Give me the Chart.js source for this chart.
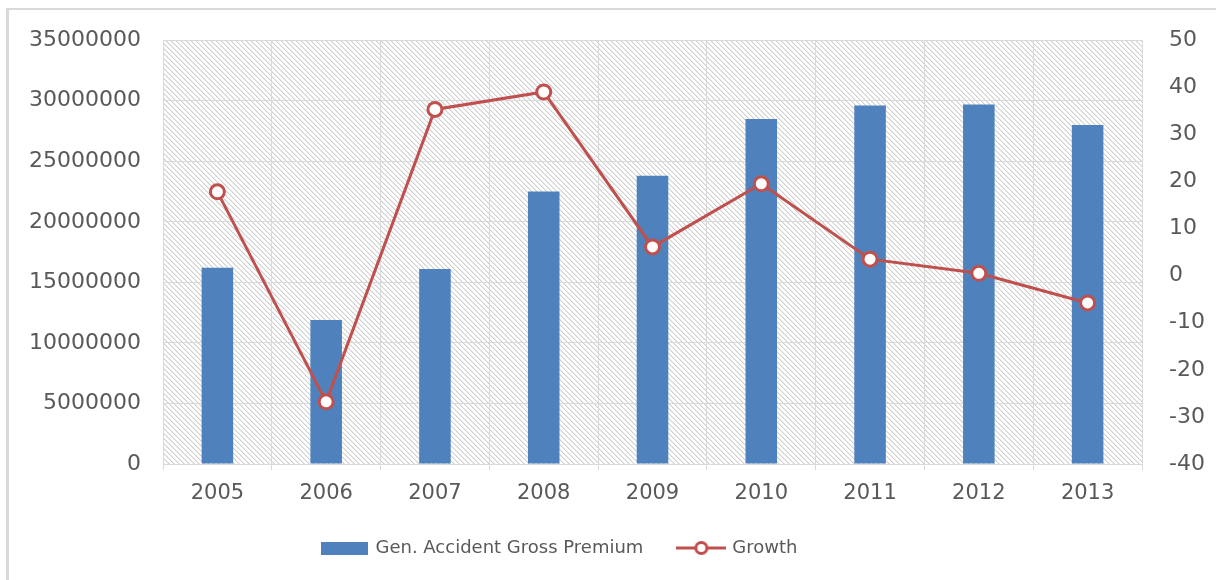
<!DOCTYPE html>
<html>
<head>
<meta charset="utf-8">
<script src="https://cdn.jsdelivr.net/npm/chart.js@4/dist/chart.umd.min.js"></script>
<style>
  html, body { margin: 0; padding: 0; background: #ffffff; }
  #wrap { width: 1216px; height: 580px; position: relative; }
</style>
</head>
<body>
<div id="wrap"><canvas id="c" width="1216" height="580"></canvas></div>
<script>
const categories = ['2005','2006','2007','2008','2009','2010','2011','2012','2013'];
const premiumValues = [16200000, 11900000, 16100000, 22500000, 23800000, 28500000, 29600000, 29700000, 28000000];
const growthValues = [17.8, -26.8, 35.3, 39.0, 6.1, 19.5, 3.5, 0.5, -5.8];
const premiumLabel = 'Gen. Accident Gross Premium';
const growthLabel = 'Growth';

const BLUE = '#4F81BD';
const RED = '#C0504D';
const GRID = '#d9d9d9';
const TEXT = '#595959';
const FONT = 'DejaVu Sans';

function makeHatch() {
  const n = 5;
  const p = document.createElement('canvas');
  p.width = n; p.height = n;
  const g = p.getContext('2d');
  g.fillStyle = '#ffffff';
  g.fillRect(0, 0, n, n);
  g.fillStyle = '#cfcfcf';
  for (let i = 0; i < n; i++) g.fillRect(i, i, 1, 1);
  g.fillStyle = '#eaeaea';
  for (let i = 0; i < n; i++) g.fillRect((i + 1) % n, i, 1, 1);
  return p;
}

function legendIconBar() {
  const c = document.createElement('canvas');
  c.width = 47; c.height = 13;
  const g = c.getContext('2d');
  g.fillStyle = BLUE;
  g.fillRect(0, 0, 47, 13);
  return c;
}
function legendIconLine() {
  const c = document.createElement('canvas');
  c.width = 50; c.height = 16;
  const g = c.getContext('2d');
  g.strokeStyle = RED; g.lineWidth = 3;
  g.beginPath(); g.moveTo(0, 8); g.lineTo(50, 8); g.stroke();
  g.fillStyle = '#fff';
  g.beginPath(); g.arc(25, 8, 5.5, 0, Math.PI * 2); g.fill(); g.stroke();
  return c;
}

const bgPlugin = {
  id: 'bg',
  beforeDraw(chart) {
    const ctx = chart.ctx;
    const a = chart.chartArea;
    ctx.save();
    ctx.fillStyle = '#ffffff';
    ctx.fillRect(0, 0, chart.width, chart.height);
    ctx.fillStyle = '#d9d9d9';
    ctx.fillRect(6, 8, 1210, 2);
    ctx.fillRect(6, 8, 3, 572);
    ctx.fillStyle = ctx.createPattern(makeHatch(), 'repeat');
    ctx.fillRect(a.left, a.top, a.right - a.left, a.bottom - a.top);
    ctx.restore();
  }
};

const legendShift = {
  id: 'legendShift',
  afterLayout(chart) {
    if (chart.legend) { chart.legend.right -= 96; }
  }
};

const barIcon = legendIconBar();
const lineIcon = legendIconLine();

new Chart(document.getElementById('c'), {
  data: {
    labels: categories,
    datasets: [
      {
        type: 'line',
        label: growthLabel,
        data: growthValues,
        yAxisID: 'y1',
        borderColor: RED,
        borderWidth: 3,
        pointRadius: 7,
        pointBorderWidth: 3,
        pointBackgroundColor: '#ffffff',
        pointBorderColor: RED,
        tension: 0,
        order: 0
      },
      {
        type: 'bar',
        label: premiumLabel,
        data: premiumValues,
        yAxisID: 'y',
        backgroundColor: BLUE,
        categoryPercentage: 1,
        barPercentage: 0.29,
        order: 1
      }
    ]
  },
  options: {
    responsive: false,
    animation: false,
    layout: { padding: { top: 38, left: 0, right: 0, bottom: 13 } },
    plugins: {
      tooltip: { enabled: false },
      legend: {
        position: 'bottom',
        labels: {
          color: TEXT,
          font: { family: FONT, size: 18 },
          usePointStyle: true,
          pointStyleWidth: 44,
          padding: 36,
          generateLabels(chart) {
            return [
              { text: premiumLabel, pointStyle: barIcon, fillStyle: BLUE, strokeStyle: BLUE, lineWidth: 0, datasetIndex: 1, fontColor: TEXT },
              { text: growthLabel, pointStyle: lineIcon, fillStyle: RED, strokeStyle: RED, lineWidth: 0, datasetIndex: 0, fontColor: TEXT }
            ];
          }
        }
      }
    },
    scales: {
      x: {
        offset: true,
        grid: { offset: true, color: GRID, lineWidth: 1, drawTicks: true, tickLength: 6 },
        border: { display: true, color: GRID },
        ticks: { color: TEXT, font: { family: FONT, size: 21 }, padding: 11 },
        afterFit(s) { s.height = 39; }
      },
      y: {
        position: 'left',
        min: 0, max: 35000000,
        ticks: { stepSize: 5000000, color: TEXT, font: { family: FONT, size: 22 }, padding: 22,
                 callback: (v) => String(v) },
        grid: { color: GRID, drawTicks: false },
        border: { display: false },
        afterFit(s) { s.width = 163; }
      },
      y1: {
        position: 'right',
        min: -40, max: 50,
        ticks: { stepSize: 10, color: TEXT, font: { family: FONT, size: 22 }, padding: 27,
                 callback: (v) => String(v) },
        grid: { display: false, drawTicks: false },
        border: { display: false },
        afterFit(s) { s.width = 74; }
      }
    }
  },
  plugins: [bgPlugin, legendShift]
});
</script>
</body>
</html>
